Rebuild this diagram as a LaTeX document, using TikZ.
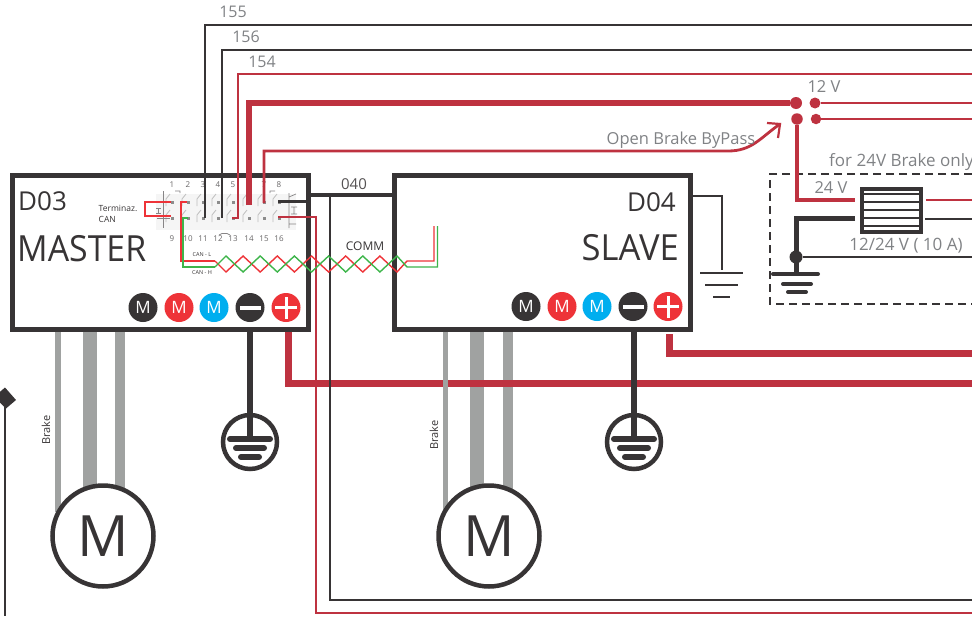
\documentclass[tikz,border=0pt]{standalone}
\usepackage{fontspec}
\setmainfont{Open Sans}
\definecolor{ink}{HTML}{373435}
\definecolor{wire}{HTML}{BE3240}
\definecolor{bright}{HTML}{EE3338}
\definecolor{sky}{HTML}{00AEEF}
\definecolor{bar}{HTML}{A0A2A1}
\definecolor{grn}{HTML}{3DB54A}
\definecolor{lbl}{HTML}{808285}
\newcommand{\fsz}[1]{\fontsize{#1}{#1}\selectfont}
\tikzset{
 unit/.style={draw=ink,line width=5pt,fill=white,rectangle,inner sep=0pt,outer sep=0pt},
 icon/.style={circle,inner sep=0pt,outer sep=0pt,minimum size=29pt,text=white,font=\fsz{17}},
 motor/.style={circle,draw=ink,line width=4.5pt,fill=white,minimum size=101pt,inner sep=0pt,outer sep=0pt,text=ink,font=\fsz{57}},
 gring/.style={circle,draw=ink,line width=4.5pt,fill=white,minimum size=54pt,inner sep=0pt,outer sep=0pt},
 bars/.style={draw=ink,line width=6pt,line cap=round},
 thinw/.style={draw=ink,line width=2.8pt},
 redw/.style={draw=wire,line width=2.8pt},
 fatw/.style={draw=wire,line width=7pt},
 grey/.style={text=lbl,inner sep=0pt,font=\fsz{16.5}},
 dark/.style={text=ink,inner sep=0pt},
 pinno/.style={text=ink!75,inner sep=0pt,font=\fsz{8}},
 relay/.style={draw=black!25,line width=0.8pt},
 dotr/.style={circle,fill=wire,inner sep=0pt,outer sep=0pt},
}
\begin{document}
\begin{tikzpicture}[x=1pt,y=-1pt]
\useasboundingbox (0,0) rectangle (972,616);
% coordinates at the right edge
\coordinate (e155) at (972,25);
\coordinate (e156) at (972,50);
\coordinate (e154) at (972,74);
\coordinate (e12a) at (972,103);
\coordinate (e12b) at (972,119);
\coordinate (e24r) at (972,200);
\coordinate (e24k) at (972,219);
\coordinate (egnd) at (972,257);
\coordinate (efat1) at (972,353);
\coordinate (efat2) at (972,383);
\coordinate (eb1) at (972,600);
\coordinate (eb2) at (972,613);
% left-hand stub
\fill[ink] (5,387.5) -- (16,400) -- (6,408.5) -- (-6,397) -- cycle;
\coordinate (lstub) at (5,398);
\coordinate (lbot) at (5,616);
\draw[thinw] (lstub) -- (lbot);
% motors' thick bars
\coordinate (mb2t) at (90,332); \coordinate (mb2b) at (90,500);
\coordinate (mb3t) at (120,332); \coordinate (mb3b) at (120,500);
\coordinate (sb2t) at (477,332); \coordinate (sb2b) at (477,500);
\coordinate (sb3t) at (508,332); \coordinate (sb3b) at (508,500);
\coordinate (mb1t) at (58,332); \coordinate (mb1b) at (58,512);
\coordinate (sb1t) at (445.5,332); \coordinate (sb1b) at (445.5,512);
\draw[bar,line width=14.5pt] (mb2t) -- (mb2b);
\draw[bar,line width=10pt] (mb3t) -- (mb3b);
\draw[bar,line width=14.5pt] (sb2t) -- (sb2b);
\draw[bar,line width=9.5pt] (sb3t) -- (sb3b);
% fat red supply runs
\coordinate (mfat) at (288,330);
\coordinate (sfat) at (669.5,334);
\draw[fatw] (mfat) |- (efat2);
\draw[fatw] (sfat) |- (efat1);
\draw[bar,line width=5.5pt] (mb1t) -- (mb1b);
\draw[bar,line width=5.5pt] (sb1t) -- (sb1b);
% units
\node[unit,minimum width=295.5pt,minimum height=154.5pt] (master) at (160.25,252.25) {};
\node[unit,minimum width=296pt,minimum height=154.5pt] (slave) at (542.5,252.25) {};
% motors
\node[motor] (mm) at (103,536) {M};
\node[motor] (sm) at (489,536) {M};
\node[dark,font=\fsz{11},rotate=90] (mbrake) at (46,430) {Brake};
\node[dark,font=\fsz{11},rotate=90] (sbrake) at (434,435) {Brake};
% labels in units
\node[dark,font=\fsz{26},anchor=west] (d03) at (18,201) {D03};
\node[dark,font=\fsz{36},anchor=west] (mast) at (17,249) {\scalebox{.94}[1]{MASTER}};
\node[dark,font=\fsz{26},anchor=east] (d04) at (676,202) {D04};
\node[dark,font=\fsz{36},anchor=east] (slv) at (679,248) {\scalebox{.96}[1]{SLAVE}};
\node[dark,font=\fsz{8.5},anchor=west] (t1) at (98.5,208) {Terminaz.};
\node[dark,font=\fsz{8.5},anchor=west] (t2) at (98.5,219) {CAN};
% connector artwork
\fill[black!4] (156,194) rectangle (296,230);
\foreach \x in {172,188,203,218,233,249,264,279}{
  \foreach \y in {202,218}{
    \draw[relay] (\x-6,\y+4) -- (\x-6,\y-3) -- (\x-2,\y-8);
    \fill[black!45] (\x-1.5,\y-1.5) rectangle (\x+1.5,\y+1.5);
  }
}
\draw[draw=ink!60,line width=0.7pt] (163,191) -- (163,228) (157,202) -- (170,202) (157,218) -- (170,218)
  (156,208) -- (161,208) (156,213) -- (161,213) (158.5,208) -- (158.5,213);
\draw[draw=ink!60,line width=0.7pt] (289,193) -- (289,228) (289,197) -- (296,194) (289,224) -- (296,224)
  (291,207) -- (297,207) (291,214) -- (297,214) (294,207) -- (294,214);
\draw[draw=ink!60,line width=0.7pt] (175,191) -- (180,191) -- (180,193) (270,193) -- (270,191) -- (275,191) (219,235) -- (222,233.5) -- (227,233.5) -- (230,235);
\foreach \n/\x in {1/172,2/188,3/203,4/218,5/233,7/264,8/279}{
  \node[pinno] (top\n) at (\x,185) {\n};
}
\foreach \n/\x in {9/172,10/188,11/203,12/218,13/233,14/249,15/264,16/279}{
  \node[pinno] (bot\n) at (\x,239) {\n};
}
\node[dark,font=\fsz{5.5}] (canl) at (202,255) {CAN - L};
\node[dark,font=\fsz{5.5}] (canh) at (202,273) {CAN - H};
% icons
\foreach \p/\a/\b/\c/\d/\e/\yy in {m/143/179/214/250/286/307.5,s/526/562/597/633/668/306.5}{
  \node[icon,fill=ink] (\p im) at (\a,\yy) {M};
  \node[icon,fill=bright] (\p ir) at (\b,\yy) {M};
  \node[icon,fill=sky] (\p ib) at (\c,\yy) {M};
  \node[icon,fill=ink] (\p in) at (\d,\yy) {};
  \node[icon,fill=bright] (\p ip) at (\e,\yy) {};
  \fill[white] (\d-10.5,\yy-2) rectangle (\d+10.5,\yy+2);
  \fill[white] (\e-11,\yy-1.5) rectangle (\e+11,\yy+1.5);
  \fill[white] (\e-1.5,\yy-11) rectangle (\e+1.5,\yy+11);
}
% grounds in rings
\foreach \p/\x in {m/250,s/634}{
  \node[gring] (\p gnd) at (\x,442) {};
  \coordinate (\p gtop) at (\x,332);
  \coordinate (\p gbar) at (\x,439);
  \draw[draw=ink,line width=6.5pt] (\p gtop) -- (\p gbar);
  \draw[bars] (\x-20,439) -- (\x+20,439);
  \draw[bars] (\x-14,448) -- (\x+14,448);
  \draw[bars] (\x-9,457) -- (\x+9,457);
}
% D04 thin ground
\coordinate (sg1) at (693,196);
\coordinate (sg2) at (722,270);
\draw[draw=ink,line width=2pt] (sg1) -| (sg2);
\draw[draw=ink,line width=2pt] (700,273) -- (743,273) (705,285) -- (738,285) (713,297) -- (730,297);
% bottom runs
\coordinate (p16) at (278,217);
\coordinate (p8) at (278,201.5);
\coordinate (c40a) at (310,195);
\coordinate (c40b) at (394,195);
\coordinate (k40) at (330,195);
\coordinate (r316) at (316,217);
\draw[thinw] (k40) |- (eb1);
\draw[redw] (p16) -- (r316) |- (eb2);
\draw[draw=ink,line width=4pt] (c40a) -- (c40b);
\draw[draw=ink,line width=3pt] (p8) -- (306,201.5);
% top runs
\coordinate (p155) at (205,218);
\coordinate (p156) at (222,218);
\coordinate (p154) at (238,218);
\coordinate (p12) at (249,205);
\coordinate (pob) at (264,203);
\draw[thinw] (p155) |- (e155);
\draw[thinw] (p156) |- (e156);
\draw[redw] (232,218) -- (p154) |- (e154);
% 12 V distribution
\node[dotr,minimum size=12pt] (da) at (796,103) {};
\node[dotr,minimum size=11pt] (db) at (815,103) {};
\node[dotr,minimum size=11.5pt] (dc) at (797,119) {};
\node[dotr,minimum size=10.5pt] (dd) at (816,119) {};
\draw[draw=wire,line width=5.5pt] (p12) |- (da);
\draw[redw] (db) -- (e12a);
\draw[redw] (dd) -- (e12b);
% open brake bypass
\coordinate (arrtip) at (780,124);
\coordinate (arra) at (767,123);
\coordinate (arrb) at (778,138);
\coordinate (obend) at (728,151);
\draw[redw] (pob) |- (obend) .. controls (752,151) and (760,138) .. (arrtip);
\draw[draw=wire,line width=2.2pt] (arra) -- (arrtip) -- (arrb);
% dashed enclosure
\draw[draw=ink,line width=2pt,dash pattern=on 8pt off 5pt] (972,174) -- (770,174) -- (770,304) -- (972,304);
% converter
\node[draw=ink,line width=4pt,fill=white,rectangle,minimum width=59pt,minimum height=43pt,inner sep=0pt,outer sep=0pt] (conv) at (891,210) {};
\foreach \y in {194,202,210,218,226}{
  \draw[draw=ink,line width=1.6pt] (861,\y) -- (921,\y);
}
\coordinate (cin) at (855,200);
\coordinate (cgn) at (855,218);
\coordinate (cor) at (926,200);
\coordinate (cok) at (925,219);
\node[circle,fill=ink,inner sep=0pt,outer sep=0pt,minimum size=13pt] (jn) at (796,257) {};
\coordinate (gb) at (796,274);
\draw[draw=wire,line width=4.5pt] (dc) |- (cin);
\draw[draw=ink,line width=5pt] (cgn) -| (gb);
\draw[thinw] (jn) -- (egnd);
\draw[redw] (cor) -- (e24r);
\draw[thinw] (cok) -- (e24k);
\draw[draw=ink,line width=4pt,line cap=round] (773,274) -- (818,274);
\draw[draw=ink,line width=4pt,line cap=round] (783,284) -- (811,284);
\draw[draw=ink,line width=4pt,line cap=round] (788,292) -- (806,292);
% CAN + termination wiring
\coordinate (t1a) at (171,202);
\coordinate (t1b) at (171,216);
\coordinate (t1c) at (145,209);
\draw[draw=bright,line width=1.4pt] (t1a) -| (t1c) |- (t1b);
\coordinate (pl) at (187,202);
\coordinate (ph) at (188,218);
\coordinate (cl) at (215,261);
\coordinate (ch) at (215,267);
\coordinate (zl) at (407,261);
\coordinate (zh) at (407,267);
\coordinate (rl) at (434,226);
\coordinate (rh) at (437.5,226);
\draw[draw=bright,line width=1.4pt] (pl) -- (181,202) -- (181,261) -- (cl);
\draw[draw=bright,line width=1.4pt] (cl) -- (226,272) -- (243.1,256) -- (260.2,272) -- (277.3,256) -- (294.4,272) -- (311.5,256) -- (328.6,272) -- (345.7,256) -- (362.8,272) -- (379.9,256) -- (397,272) -- (zl) -| (rl);
\draw[draw=grn,line width=1.4pt] (ph) -- (183,218) -- (183,267) -- (ch);
\draw[draw=grn,line width=1.4pt] (ch) -- (226,256) -- (243.1,272) -- (260.2,256) -- (277.3,272) -- (294.4,256) -- (311.5,272) -- (328.6,256) -- (345.7,272) -- (362.8,256) -- (379.9,272) -- (397,256) -- (zh) -| (rh);
% wires drawn over artwork
\draw[draw=wire,line width=2.8pt] (p16) -- (r316);
% grey labels
\node[grey,font=\fsz{16}] (l155) at (233,12) {155};
\node[grey,font=\fsz{16}] (l156) at (246,37) {156};
\node[grey,font=\fsz{16}] (l154) at (262,62) {154};
\node[grey] (l12) at (824,87) {12 V};
\node[grey] (lob) at (681,140) {Open Brake ByPass};
\node[grey,anchor=west,font=\fsz{17}] (lfor) at (829,162) {for 24V Brake only};
\node[grey] (l24) at (831,188) {24 V};
\node[grey,font=\fsz{17}] (l1224) at (906,246) {12/24 V ( 10 A)};
\node[dark,font=\fsz{15},text=ink!85] (l040) at (354,184) {040};
\node[dark,font=\fsz{12}] (lcomm) at (365,246) {COMM};
\end{tikzpicture}
\end{document}
